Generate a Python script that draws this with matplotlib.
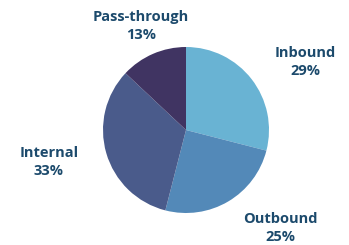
import matplotlib
matplotlib.use('agg')
import matplotlib.pyplot as plt

# Données
categories = ["Inbound", "Outbound", "Internal", "Pass-through"]
shares = [29, 25, 33, 13]
colors = ["#69b3d3", "#5389b8", "#4a5b8b", "#403462"]

# positions des étiquettes (pixels, origine en haut à gauche)
label_pos = [(305, 62), (280, 228), (49, 162), (141, 26)]

fig = plt.figure(figsize=(3.49, 2.45), dpi=100)
ax = fig.add_axes([0, 0, 1, 1])

ax.pie(shares, colors=colors, startangle=90, counterclock=False,
       center=(186, 115), radius=83, frame=True)
ax.set_xlim(0, 349)
ax.set_ylim(0, 245)
ax.set_aspect('equal')
ax.axis('off')

for cat, val, (px, py) in zip(categories, shares, label_pos):
    ax.text(px, 245 - py, cat + "\n" + str(val) + "%", ha='center', va='center',
            fontsize=10.5, fontweight='bold', family='Open Sans', color="#1c4a6c",
            linespacing=1.45)

fig.savefig("out.png", dpi=100)
